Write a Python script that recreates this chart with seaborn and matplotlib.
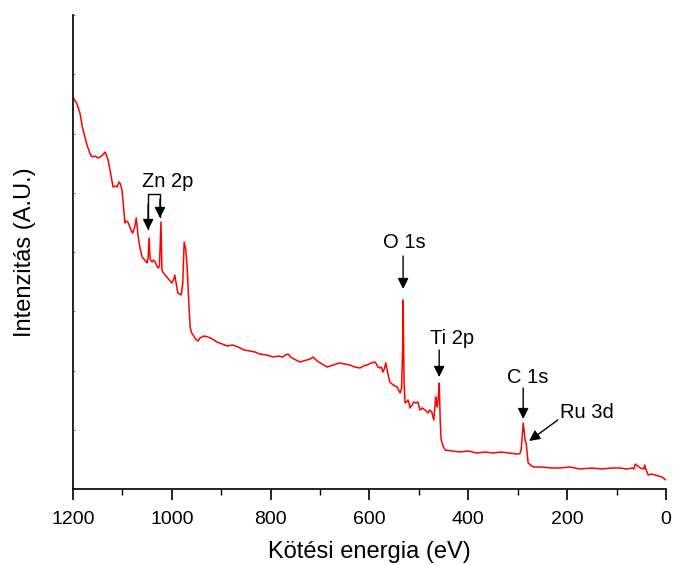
import matplotlib
matplotlib.use("Agg")
import matplotlib.pyplot as plt
from matplotlib.ticker import MultipleLocator
import numpy as np
import pandas as pd
import seaborn as sns

# XPS survey spectrum: binding energy (eV) and intensity (arbitrary units)
binding_energy = [
    1199, 1192, 1186, 1181, 1176, 1171, 1166, 1163, 1160, 1155, 1150, 1145, 1140,
    1135, 1132, 1129, 1124, 1119, 1115, 1111, 1107, 1104, 1101, 1098, 1095, 1092,
    1089, 1085, 1081, 1079, 1075, 1072, 1068, 1064, 1060, 1055, 1050, 1048, 1046,
    1044, 1040, 1037, 1034, 1031, 1028, 1025, 1022, 1020, 1018, 1014, 1010, 1005,
    1000, 996, 994, 991, 988, 984, 981, 978, 975, 972, 969, 966, 963, 960, 957,
    952, 947, 943, 935, 927, 918, 909, 898, 888, 877, 866, 854, 842, 832, 822, 808,
    795, 785, 775, 770, 765, 761, 757, 749, 741, 734, 727, 720, 714, 710, 706, 696,
    686, 673, 660, 650, 640, 630, 619, 612, 605, 597, 589, 586, 583, 579, 576, 573,
    570, 567, 563, 559, 552, 544, 541, 538, 535, 533, 532, 531, 530, 529, 528, 525,
    522, 520, 518, 514, 510, 506, 502, 500, 498, 493, 488, 485, 482, 478, 474, 472,
    470, 468, 466, 464, 463, 461, 459, 458, 457, 455, 451, 447, 432, 417, 400, 383,
    366, 350, 334, 318, 302, 298, 295, 293, 291, 289, 287, 285, 283, 281, 279, 274,
    269, 250, 232, 215, 195, 174, 150, 130, 110, 93, 80, 68, 65, 62, 52, 45, 43, 41,
    36, 29, 22, 15, 8, 3, 0,
]
intensity = [
    391, 385, 376, 362, 352, 343, 336, 333, 332, 333, 331, 332, 334,
    337, 333, 329, 316, 302, 303, 302, 307, 305, 299, 284, 266, 268,
    267, 262, 257, 256, 262, 271, 252, 240, 232, 229, 226, 231, 251,
    230, 227, 229, 227, 224, 221, 223, 267, 219, 217, 214, 212, 209,
    206, 210, 214, 205, 196, 195, 194, 205, 247, 240, 222, 190, 162, 156, 154,
    150, 148, 151, 153, 152, 150, 147, 145, 143, 144, 142, 139, 138, 137, 135, 134,
    132, 133, 132, 134, 135, 133, 131, 129, 127, 128, 129, 130, 132, 130, 128, 125,
    122, 124, 126, 125, 124, 122, 121, 123, 124, 126, 127, 125, 122, 121, 122, 117,
    120, 126, 116, 107, 104, 102, 99, 96, 101, 140, 189, 150, 106, 96, 86, 87,
    89, 86, 81, 84, 87, 86, 87, 83, 79, 81, 79, 78, 76, 79, 77, 73,
    69, 80, 92, 86, 82, 90, 106, 90, 69, 49, 43, 39, 38, 37, 38, 36,
    37, 36, 37, 36, 35, 35, 36, 40, 52, 66, 58, 48, 46, 36, 26, 24,
    22, 22, 21, 21, 22, 20, 21, 20, 21, 21, 20, 21, 20, 25, 21, 20, 24, 20,
    14, 15, 14, 13, 12, 10, 9,
]

# Peak labels: (text, baseline position, arrow start, arrow tip) in data coordinates
peak_labels = ["O 1s", "Ti 2p", "C 1s"]
label_pos = [(530, 241), (433, 145), (279, 106)]
arrow_start = [(532, 233), (459, 139), (289, 101)]
arrow_tip = [(532, 200), (459, 112), (289, 70)]

sns.set_style("ticks")
plt.rcParams["font.family"] = ["Liberation Sans", "DejaVu Sans"]
plt.rcParams["text.color"] = "black"
plt.rcParams["axes.labelcolor"] = "black"
plt.rcParams["xtick.color"] = "black"
plt.rcParams["ytick.color"] = "black"

fig = plt.figure(figsize=(6.75, 5.65), dpi=100)
ax = fig.add_axes([73 / 675, 1 - 489 / 565, 593 / 675, 474 / 565])

df = pd.DataFrame({"energy": binding_energy, "intensity": intensity})
sns.lineplot(data=df, x="energy", y="intensity", estimator=None, sort=False,
             color="#ff0000", linewidth=1.1, ax=ax)

ax.set_xlim(1200, 0)
ax.set_ylim(0, 474)

ax.xaxis.set_major_locator(MultipleLocator(200))
ax.xaxis.set_minor_locator(MultipleLocator(100))
ax.yaxis.set_major_locator(MultipleLocator(59.25))
ax.tick_params(axis="x", which="major", direction="out", length=8, width=1.2,
               labelsize=14, pad=8, colors="black")
ax.tick_params(axis="x", which="minor", direction="out", length=4, width=1.0,
               colors="black")
ax.tick_params(axis="y", which="major", direction="in", length=1.5, width=0.6,
               labelleft=False, colors="#666666")

for side in ("top", "right"):
    ax.spines[side].set_visible(False)
for side in ("left", "bottom"):
    ax.spines[side].set_linewidth(1.3)
    ax.spines[side].set_color("#111111")

ax.set_xlabel("Kötési energia (eV)", fontsize=17, labelpad=9)
ax.set_ylabel("Intenzitás (A.U.)", fontsize=17, labelpad=27)

arrow_kw = dict(arrowstyle="-|>", color="black", lw=1.0, mutation_scale=16,
                shrinkA=0, shrinkB=0)

for text, pos, start, tip in zip(peak_labels, label_pos, arrow_start, arrow_tip):
    ax.text(pos[0], pos[1], text, fontsize=14.5, ha="center", va="baseline")
    ax.annotate("", xy=tip, xytext=start, arrowprops=arrow_kw)

# Ru 3d shoulder, pointed at diagonally
ax.text(160, 71, "Ru 3d", fontsize=14.5, ha="center", va="baseline")
ax.annotate("", xy=(277, 48), xytext=(219, 69), arrowprops=arrow_kw)

# Zn 2p doublet with a bracket leading to both peaks
ax.text(1008, 302, "Zn 2p", fontsize=14.5, ha="center", va="baseline")
ax.plot([1048, 1048, 1024, 1024], [260, 295, 295, 272], color="black", lw=1.0)
ax.annotate("", xy=(1048, 259), xytext=(1048, 285), arrowprops=arrow_kw)
ax.annotate("", xy=(1024, 271), xytext=(1024, 290), arrowprops=arrow_kw)

fig.savefig("out.png", dpi=100)
